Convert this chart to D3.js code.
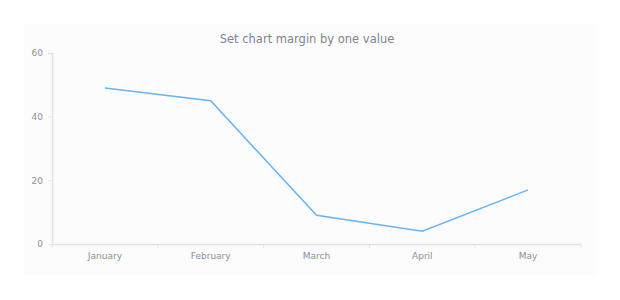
<!DOCTYPE html>
<html>
<head>
<meta charset="utf-8">
<script src="https://cdn.jsdelivr.net/npm/d3@7"></script>
<style>
  html, body { margin: 0; padding: 0; background: #fff; }
  text { font-family: "DejaVu Sans", sans-serif; }
  .axis path, .axis line { stroke: #e2e2e2; }
  .axis text { fill: #8a9097; font-size: 9px; }
</style>
</head>
<body>
<div id="chart"></div>
<script>
const months = ['January', 'February', 'March', 'April', 'May'];
const values = [49, 45, 9, 4, 17];
const yTicks = [0, 20, 40, 60];
const title = 'Set chart margin by one value';

const W = 620, H = 300;
const panel = { x: 24, y: 24, w: 572, h: 251 };
const margin = { top: 53, right: 39, bottom: 56, left: 52 };
const w = W - margin.left - margin.right;
const h = H - margin.top - margin.bottom;

const svg = d3.select('#chart').append('svg').attr('width', W).attr('height', H);

svg.append('rect')
  .attr('x', panel.x).attr('y', panel.y)
  .attr('width', panel.w).attr('height', panel.h)
  .attr('rx', 3)
  .attr('fill', '#fcfcfc');

svg.append('text')
  .attr('x', 307).attr('y', 43)
  .attr('text-anchor', 'middle')
  .attr('fill', '#7d858d')
  .attr('font-size', 11.5)
  .text(title);

const g = svg.append('g').attr('transform', `translate(${margin.left},${margin.top})`);

const x = d3.scaleBand().domain(months).range([0, w]);
const y = d3.scaleLinear().domain([0, 60]).range([h, 0]);

// Y axis
const yAxis = g.append('g').attr('class', 'axis y-axis')
  .call(d3.axisLeft(y).tickValues(yTicks).tickSize(4).tickPadding(5));
yAxis.select('.domain').attr('d', `M-4,0.5H0.5V${h + 0.5}`).attr('stroke-width', 1.5);

// X axis with ticks at band edges
const xAxis = g.append('g').attr('class', 'axis x-axis')
  .attr('transform', `translate(0,${h})`)
  .call(d3.axisBottom(x).tickSize(0).tickPadding(9));
xAxis.select('.domain').attr('d', `M0,0.5H${w}`).attr('stroke-width', 1.5);
xAxis.selectAll('.edge')
  .data(months.map(m => x(m)).concat([w]))
  .join('line')
  .attr('class', 'edge')
  .attr('x1', d => d).attr('x2', d => d)
  .attr('y1', 0).attr('y2', 4)
  .attr('stroke', '#e2e2e2');

// Line
const line = d3.line()
  .x((d, i) => x(months[i]) + x.bandwidth() / 2)
  .y(d => y(d));

g.append('path')
  .datum(values)
  .attr('d', line)
  .attr('fill', 'none')
  .attr('stroke', '#64b5f6')
  .attr('stroke-width', 1.5);
</script>
</body>
</html>
